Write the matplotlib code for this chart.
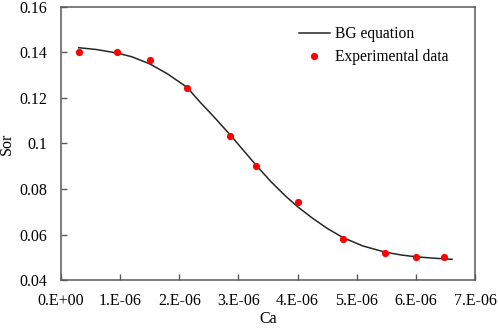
import math
import matplotlib
matplotlib.use("Agg")
import matplotlib.pyplot as plt
from matplotlib.ticker import FuncFormatter

# experimental points (Ca, Sor)
ca_exp = [0.31e-6, 0.95e-6, 1.50e-6, 2.13e-6, 2.865e-6, 3.30e-6,
          4.00e-6, 4.77e-6, 5.47e-6, 5.995e-6, 6.47e-6]
sor_exp = [0.1404, 0.1404, 0.1367, 0.1244, 0.1032, 0.0903,
           0.0745, 0.0580, 0.0517, 0.0502, 0.0502]

# BG equation curve
ca_fit = [0.30e-6, 0.60e-6, 0.96e-6, 1.20e-6, 1.50e-6, 1.80e-6, 2.13e-6,
          2.35e-6, 2.60e-6, 2.87e-6, 3.05e-6, 3.30e-6, 3.55e-6, 3.80e-6,
          4.00e-6, 4.25e-6, 4.50e-6, 4.77e-6, 5.10e-6, 5.47e-6, 5.75e-6,
          6.00e-6, 6.30e-6, 6.61e-6]
sor_fit = [0.1421, 0.1413, 0.1397, 0.1381, 0.1350, 0.1306, 0.1247,
           0.1182, 0.1113, 0.1035, 0.0980, 0.0904, 0.0832, 0.0768,
           0.0722, 0.0672, 0.0627, 0.0586, 0.0550, 0.0523, 0.0510,
           0.0502, 0.0496, 0.0491]

x_ticks = [0, 1e-6, 2e-6, 3e-6, 4e-6, 5e-6, 6e-6, 7e-6]
y_ticks = [0.04, 0.06, 0.08, 0.1, 0.12, 0.14, 0.16]

plt.rcParams["font.family"] = ["Liberation Serif", "DejaVu Serif"]
plt.rcParams["font.size"] = 11

fig = plt.figure(figsize=(4.98, 3.28), dpi=100)
ax = fig.add_axes([0.1225, 0.1463, 0.8315, 0.8324])

ax.plot(ca_fit, sor_fit, color="#262626", lw=1.1, label="BG equation")
ax.plot(ca_exp, sor_exp, "o", color="#ff0000", ms=5.2, mec="none",
        label="Experimental data")

ax.set_xlim(0, 7e-6)
ax.set_ylim(0.04, 0.16)
ax.set_xticks(x_ticks)
ax.set_yticks(y_ticks)


def sci_fmt(v, pos):
    # Excel style "0.E+00"
    if v == 0:
        return "0.E+00"
    e = int(math.floor(math.log10(abs(v)) + 1e-9))
    m = v / 10 ** e
    return f"{m:.0f}.E{e:+03d}"


ax.xaxis.set_major_formatter(FuncFormatter(sci_fmt))
ax.yaxis.set_major_formatter(FuncFormatter(lambda v, p: f"{v:g}"))

ax.tick_params(direction="in", length=4, width=1, color="#595959",
               labelsize=11.5, top=False, right=False)
ax.tick_params(axis="x", pad=9)
ax.tick_params(axis="y", pad=10)
for s in ax.spines.values():
    s.set_color("#595959")
    s.set_linewidth(1.1)

ax.set_xlabel("Ca", fontsize=11.5, labelpad=2)
ax.set_ylabel("Sor", fontsize=11.5)
ax.yaxis.set_label_coords(-0.112, 0.5)

ax.legend(loc="upper right", frameon=False, fontsize=11.2,
          handlelength=2.0, handletextpad=0.3, borderaxespad=0.4,
          labelspacing=0.45, bbox_to_anchor=(0.965, 0.975))

fig.savefig("out.png", dpi=100)
